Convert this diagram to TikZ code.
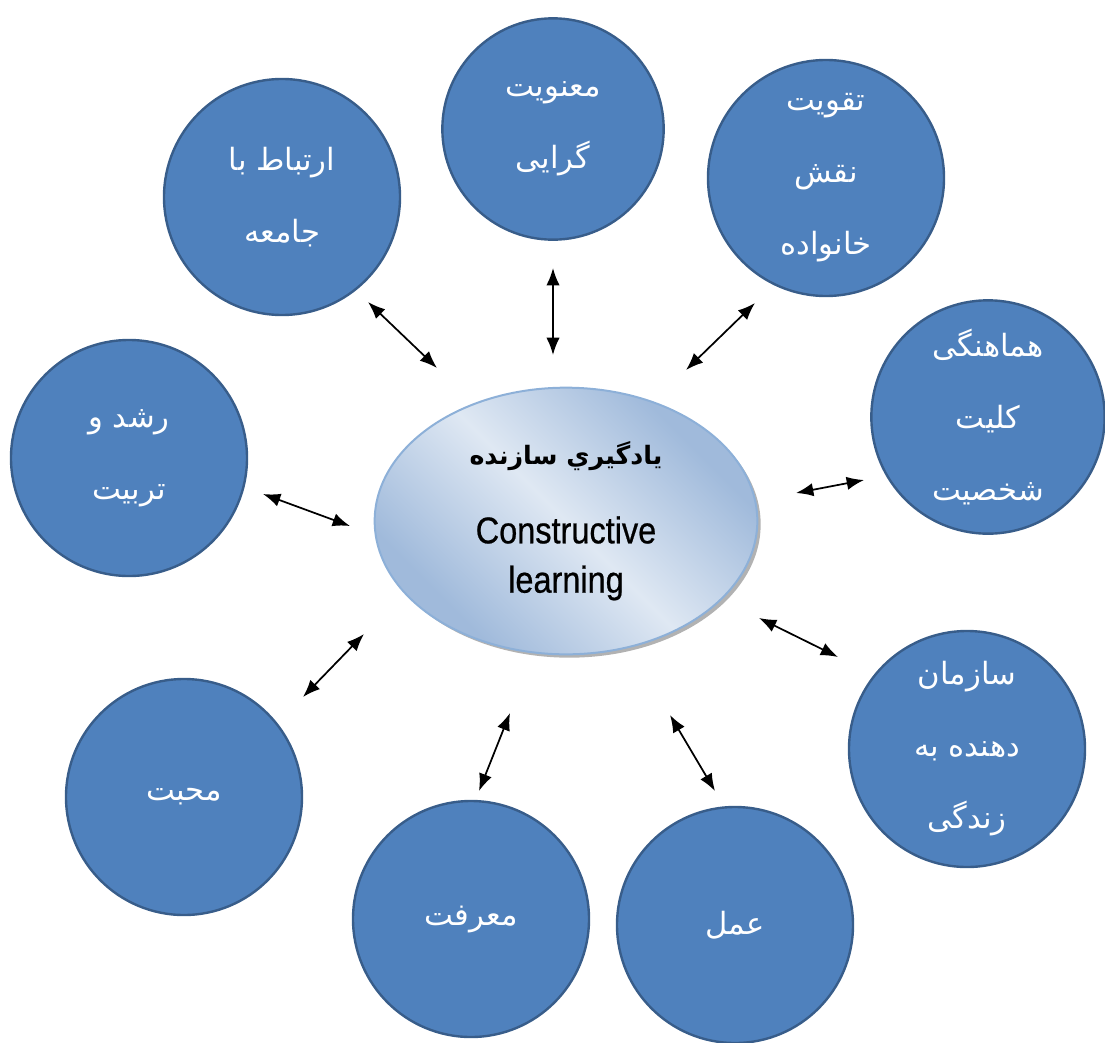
\documentclass[tikz,border=0pt]{standalone}
\usepackage{fontspec}
\setmainfont{Liberation Sans}
\newfontfamily\arabicfont[Script=Arabic]{DejaVu Sans}
\newfontfamily\narrowfont[FakeStretch=0.87, FakeBold=0.6]{Liberation Sans}
\TeXXeTstate=1
\usetikzlibrary{arrows.meta, shapes.geometric, shadows}
\newcommand{\fa}[1]{\beginR #1\endR}
\definecolor{topicblue}{RGB}{79, 129, 189}
\definecolor{topicedge}{RGB}{56, 93, 138}
\definecolor{corelight}{RGB}{223, 232, 243}
\definecolor{coredark}{RGB}{160, 186, 219}
\definecolor{coreedge}{RGB}{141, 176, 216}
\pgfdeclarehorizontalshading{coreshade}{100bp}{color(0bp)=(coredark); color(28bp)=(coredark);
  color(50bp)=(corelight); color(72bp)=(coredark); color(100bp)=(coredark)}
\tikzset{
    topicnode/.style = {circle, draw=topicedge, fill=topicblue, line width=1.8pt, inner sep=0pt,
      minimum size=177pt, text=white, align=center, font=\arabicfont\fontsize{23}{54}\selectfont},
    corenode/.style = {ellipse, draw=coreedge, line width=1.5pt, shading=coreshade, shading angle=45,
      minimum width=287pt, minimum height=200pt, inner sep=0pt, align=center,
      drop shadow={shadow xshift=2.5pt, shadow yshift=-2.5pt, fill=black, opacity=0.3},
      font=\narrowfont\fontsize{28}{37}\selectfont},
    link/.style = {black, line width=1.3pt, {Latex[length=13pt, width=10pt]}-{Latex[length=13pt, width=10pt]}}
}

\begin{document}
\begin{tikzpicture}[x=0.75pt, y=-0.75pt]
\useasboundingbox (0,0) rectangle (1105,1042);
% centre
\node [name=core, corenode] at (566,521)
  {{\arabicfont\bfseries\fontsize{19}{19}\selectfont\fa{یادگیري سازنده}}\\[22pt]Constructive\\learning};
% topics round the centre
\node [name=ertebat, topicnode] at (282,197) {\fa{ارتباط با}\\\fa{جامعه}};
\node [name=manaviat, topicnode, minimum size=166pt] at (553,129) {\fa{معنویت}\\\fa{گرایی}};
\node [name=khanevade, topicnode] at (826,178) {\fa{تقویت}\\\fa{نقش}\\\fa{خانواده}};
\node [name=hamahangi, topicnode, minimum size=175pt] at (988,417) {\fa{هماهنگی}\\\fa{کلیت}\\\fa{شخصیت}};
\node [name=sazman, topicnode] at (967,749) {\fa{سازمان}\\\fa{دهنده به}\\\fa{زندگی}};
\node [name=amal, topicnode] at (735,925) {\fa{عمل}};
\node [name=marefat, topicnode] at (471,919) {\fa{معرفت}};
\node [name=mohabbat, topicnode] at (184,797) {\fa{محبت}};
\node [name=roshd, topicnode] at (129,458) {\fa{رشد و}\\\fa{تربیت}};
% arrow ends
\coordinate (ertebat-a) at (368,302);   \coordinate (ertebat-b) at (437,368);
\coordinate (manaviat-a) at (553,268);  \coordinate (manaviat-b) at (553,355);
\coordinate (khanevade-a) at (755,303); \coordinate (khanevade-b) at (686,370);
\coordinate (hamahangi-a) at (864,480); \coordinate (hamahangi-b) at (796,493);
\coordinate (sazman-a) at (838,657);    \coordinate (sazman-b) at (759,618);
\coordinate (amal-a) at (715,791);      \coordinate (amal-b) at (670,715);
\coordinate (marefat-a) at (479,791);   \coordinate (marefat-b) at (510,713);
\coordinate (mohabbat-a) at (303,697);  \coordinate (mohabbat-b) at (364,634);
\coordinate (roshd-a) at (263,494);     \coordinate (roshd-b) at (350,526);
\foreach \t in {ertebat, manaviat, khanevade, hamahangi, sazman, amal, marefat, mohabbat, roshd}
  \draw [link] (\t-a) -- (\t-b);
\end{tikzpicture}
\end{document}
